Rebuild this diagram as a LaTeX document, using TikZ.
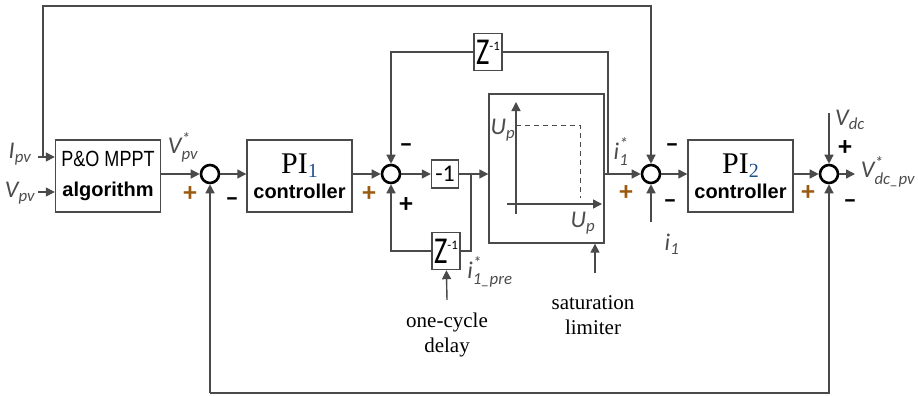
\documentclass[tikz,border=0pt]{standalone}
\usepackage{amsmath}
\usepackage{fontspec}
\setmainfont{Carlito}
\newfontfamily\arialfont{Liberation Sans}
\newfontfamily\narrowfont[FakeStretch=0.82]{Liberation Sans}
\newfontfamily\timesfont{Liberation Serif}
\newfontfamily\zfont[FakeStretch=0.75]{Carlito}
\usetikzlibrary{arrows.meta,calc,positioning}
\definecolor{cline}{HTML}{4A4A4A}
\definecolor{cplus}{HTML}{9A5A10}
\definecolor{csub}{HTML}{1F4F8F}
\tikzset{
  every picture/.style={>={Triangle[length=9pt,width=9pt]}, x=1pt, y=-1pt},
  blk/.style={draw=cline, line width=1.4pt, minimum width=105pt, minimum height=72pt,
    inner sep=0pt, align=center, font=\arialfont\fontsize{20}{30}\selectfont},
  zblk/.style={draw=cline, line width=1.4pt, minimum width=28pt, minimum height=37pt, inner sep=0pt},
  sumnode/.style={circle, draw=black, line width=2.6pt, minimum size=18pt, inner sep=0pt},
  wire/.style={draw=cline, line width=1.4pt},
  sgn/.style={font=\bfseries\fontsize{27}{27}\selectfont, inner sep=0pt},
  lbl/.style={font=\fontsize{24}{24}\selectfont, text=black!70, inner sep=0pt},
  note/.style={font=\timesfont\fontsize{21}{25}\selectfont, align=center, inner sep=0pt},
}
\newcommand{\sig}[2]{$\textit{#1}_{\textit{#2}}$}
\newcommand{\sigst}[2]{$\textit{#1}^{\textit{*}}_{\textit{#2}}$}
\newcommand{\zinv}{{\zfont\fontsize{38}{38}\selectfont Z}\raisebox{14pt}{\fontsize{13}{13}\selectfont -1}}
\newcommand{\pilab}[1]{{\timesfont\fontsize{30}{30}\selectfont PI\raisebox{-4pt}{\fontsize{20}{20}\selectfont\color{csub}#1}}}

\begin{document}
\begin{tikzpicture}
  \useasboundingbox (0,0) rectangle (918,396);
  % blocks
  \node[blk] (mppt) at (108,176) {{\narrowfont\fontsize{22}{22}\selectfont P\&O MPPT}\\{\bfseries algorithm}};
  \node[blk, font=\arialfont\fontsize{20}{25}\selectfont] (pione) at (299.5,176) {\pilab{1}\\{\bfseries controller}};
  \node[blk, font=\arialfont\fontsize{20}{25}\selectfont] (pitwo) at (740.5,176) {\pilab{2}\\{\bfseries controller}};
  \node[draw=cline, line width=1.4pt, minimum width=27pt, minimum height=28pt, inner sep=0pt,
    font=\fontsize{24}{24}\selectfont] (neg) at (445,174) {-1};
  \node[zblk] (zup) at (488,52) {\zinv};
  \node[zblk] (zdn) at (446,251) {\zinv};
  \node[draw=cline, line width=1.4pt, minimum width=115pt, minimum height=149pt] (sat) at (546.5,168.5) {};
  % summing junctions
  \node[sumnode] (sumA) at (210,174) {};
  \node[sumnode] (sumB) at (391,174) {};
  \node[sumnode] (sumC) at (651,174) {};
  \node[sumnode] (sumD) at (829,174) {};
  % free ends
  \coordinate (ipvin) at (38,157);
  \coordinate (vpvin) at (38,192);
  \coordinate (tl) at (43,157);
  \coordinate (tr) at (651,6);
  \coordinate (bl) at (210,393);
  \coordinate (br) at (829,393);
  \coordinate (jn) at (471,174);
  \coordinate (jo) at (608,174);
  \coordinate (ione) at (651,222);
  \coordinate (vdcin) at (829,113);
  \coordinate (outp) at (855,174);
  \coordinate (dly) at (447,300);
  \coordinate (lim) at (595,273);
  % forward path
  \draw[wire,->] (ipvin) -- (mppt.west |- ipvin);
  \draw[wire,->] (vpvin) -- (mppt.west |- vpvin);
  \draw[wire,->] (mppt.east |- sumA) -- (sumA);
  \draw[wire,->] (sumA) -- (sumA -| pione.west);
  \draw[wire,->] (pione.east |- sumB) -- (sumB);
  \draw[wire,->] (sumB) -- (neg);
  \draw[wire,->] (neg) -- (sat.west |- neg);
  \draw[wire,->] (sat.east |- sumC) -- (sumC);
  \draw[wire,->] (sumC) -- (sumC -| pitwo.west);
  \draw[wire,->] (pitwo.east |- sumD) -- (sumD);
  \draw[wire,->] (sumD) -- (outp);
  % loops
  \draw[wire,->] (tl) -- (tl |- tr) -- (tr) -- (sumC);
  \draw[wire,->] (bl) -- (sumA);
  \draw[wire,->] (bl) -- (br) -- (sumD);
  \draw[wire] (jn) |- (zdn);
  \draw[wire,->] (zdn) -| (sumB);
  \draw[wire] (jo) |- (zup);
  \draw[wire,->] (zup) -| (sumB);
  \draw[wire,->] (ione) -- (sumC);
  \draw[wire,->] (vdcin) -- (sumD);
  \draw[wire,->] (dly) -- (zdn);
  \draw[wire,->] (lim) -- (lim |- sat.south);
  % limiter curve
  \draw[wire,->] (516,214) -- (516,102);
  \draw[wire,->] (507,204) -- (602,204);
  \draw[cline, line width=1pt, dash pattern=on 5pt off 4pt] (516,125) -- (580,125) -- (580,198);
  % signs
  \node[sgn, text=cplus] (pA) at (190,194) {+};
  \node[sgn] (mA) at (232,202) {–};
  \node[sgn, text=cplus] (pB) at (369,194) {+};
  \node[sgn] (qB) at (406,205) {+};
  \node[sgn] (mB) at (406,148) {–};
  \node[sgn, text=cplus] (pC) at (626,193) {+};
  \node[sgn] (mC) at (672,148) {–};
  \node[sgn] (nC) at (670,204) {–};
  \node[sgn, text=cplus] (pD) at (808,193) {+};
  \node[sgn] (qD) at (845,148) {+};
  \node[sgn] (mD) at (850,204) {–};
  % labels
  \node[lbl] (ipvl) at (20,154) {\sig{I}{pv}};
  \node[lbl] (vpvl) at (20,193) {\sig{V}{pv}};
  \node[lbl] (vref) at (183,147) {\sigst{V}{pv}};
  \node[lbl] (upa) at (503,130) {\sig{U}{p}};
  \node[lbl] (upb) at (583,223) {\sig{U}{p}};
  \node[lbl] (ipre) at (490,272) {\sigst{i}{1\_pre}};
  \node[lbl] (iref) at (621,152) {\sigst{i}{1}};
  \node[lbl] (ilab) at (672,244) {\sig{i}{1}};
  \node[lbl] (vdcl) at (850,120) {\sig{V}{dc}};
  \node[lbl] (vout) at (888,172) {\sigst{V}{dc\_pv}};
  \node[note] (dlyl) at (447,335) {one-cycle\\delay};
  \node[note] (liml) at (593,315) {saturation\\limiter};
\end{tikzpicture}
\end{document}
